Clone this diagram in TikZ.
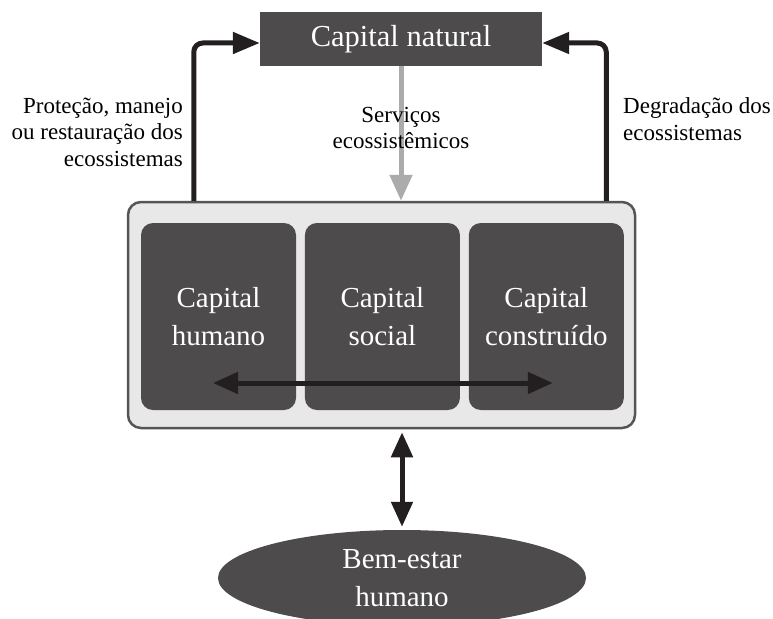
\documentclass[tikz,border=0pt]{standalone}
\usepackage{fontspec}
\setmainfont{Liberation Serif}
\usetikzlibrary{arrows.meta,positioning,shapes.geometric}
\definecolor{capdark}{HTML}{4D4B4C}
\definecolor{panelgray}{HTML}{E8E8E8}
\definecolor{panelline}{HTML}{555555}
\definecolor{svcgray}{HTML}{ABABAB}
\definecolor{arrowblack}{HTML}{231F20}

\begin{document}
\begin{tikzpicture}[
  x=1pt, y=-1pt,
  capbox/.style={rectangle, fill=capdark, text=white, align=center, inner sep=0pt, font=\fontsize{29}{38}\selectfont},
  inner/.style={capbox, rounded corners=12pt, minimum width=155pt, minimum height=187pt},
  panel/.style={rectangle, draw=panelline, line width=2.5pt, fill=panelgray, rounded corners=13pt, minimum width=507pt, minimum height=226pt},
  wellbeing/.style={ellipse, fill=capdark, inner sep=0pt, minimum width=368pt, minimum height=96pt},
  lbl/.style={inner sep=0pt, font=\fontsize{23}{26.5}\selectfont},
  flow/.style={-{Triangle[length=27pt, width=21pt]}, line width=5pt, draw=arrowblack, rounded corners=9pt},
  svc/.style={-{Triangle[length=26pt, width=22pt]}, line width=5pt, draw=svcgray},
  both/.style={{Triangle[length=25pt, width=21pt]}-{Triangle[length=25pt, width=21pt]}, line width=5pt, draw=arrowblack}
]
  \useasboundingbox (0,0) rectangle (773,618);
  \clip (0,0) rectangle (773,618);

  \node[capbox, minimum width=282pt, minimum height=54pt, font=\fontsize{30.5}{38}\selectfont] (nat) at (401,39) {Capital natural};
  \node[panel] (cont) at (381.5,315) {};
  \node[inner] (hum) at (218.5,316.5) {Capital\\humano};
  \node[inner, right=8.5pt of hum] (soc) {Capital\\social};
  \node[inner, right=8.5pt of soc] (bui) {Capital\\construído};
  \node[wellbeing, label={[capbox, text=white]center:Bem-estar\\humano}] (bem) at (402,578) {};

  \node[lbl, anchor=east, align=right] (prot) at (183,132) {Proteção, manejo\\ou restauração dos\\ecossistemas};
  \node[lbl, anchor=west, align=left] (degr) at (623,119) {Degradação dos\\ecossistemas};

  \draw[flow] ([xshift=67pt]cont.north west) |- ([yshift=-4pt]nat.west);
  \draw[flow] ([xshift=-30pt]cont.north east) |- ([yshift=-4pt]nat.east);
  \draw[svc] (nat.south) -- node[lbl, pos=0.46, align=center] {Serviços\\ecossistêmicos} (nat.south |- cont.north);
  \draw[both] ([xshift=-5.5pt, yshift=-66.5pt]hum.center) -- ([xshift=6.5pt, yshift=-66.5pt]bui.center);
  \draw[both, shorten <=3pt, shorten >=3pt] (bem.north |- cont.south) -- (bem.north);
\end{tikzpicture}
\end{document}
